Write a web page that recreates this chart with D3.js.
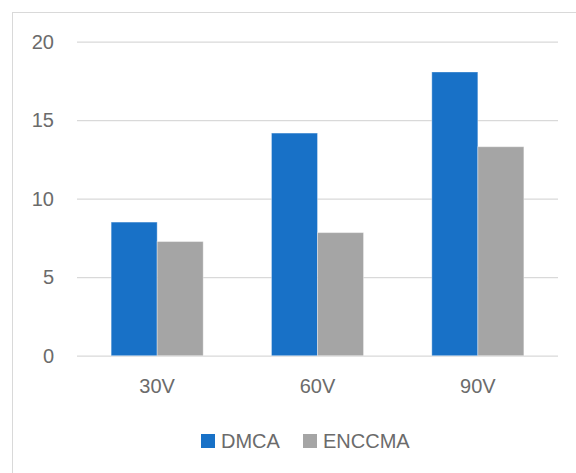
<!DOCTYPE html>
<html>
<head>
<meta charset="utf-8">
<script src="https://cdn.jsdelivr.net/npm/d3@7"></script>
<style>
  html, body { margin: 0; padding: 0; background: #fff; }
  svg { display: block; }
  text { font-family: "Liberation Sans", Arial, sans-serif; fill: #6b6b6b; }
</style>
</head>
<body>
<svg id="chart" width="576" height="473"></svg>
<script>
// Chart data
const categories = ["30V", "60V", "90V"];
const seriesNames = ["DMCA", "ENCCMA"];
const dmca = [8.51, 14.18, 18.07];
const enccma = [7.27, 7.84, 13.31];
const yTicks = [0, 5, 10, 15, 20];
const seriesColors = ["#1871c7", "#a5a5a5"];

const svg = d3.select("#chart");
const W = 576, H = 473;
const textColor = "#6b6b6b";

// Outer frame (only top and left edges fall inside the window)
svg.append("rect")
  .attr("x", 12.5).attr("y", 12.5)
  .attr("width", W).attr("height", H)
  .attr("fill", "none")
  .attr("stroke", "#d9d9d9")
  .attr("stroke-width", 1);

const plot = { left: 77, right: 558, top: 41.7, bottom: 355.7 };

const x = d3.scaleBand()
  .domain(categories)
  .range([plot.left, plot.right])
  .paddingInner(0.426)
  .paddingOuter(0.213);

const xs = d3.scaleBand()
  .domain(seriesNames)
  .range([0, x.bandwidth()]);

const y = d3.scaleLinear()
  .domain([0, 20])
  .range([plot.bottom, plot.top]);

// Horizontal gridlines with value labels
const yAxis = d3.axisLeft(y)
  .tickValues(yTicks)
  .tickSize(-(plot.right - plot.left))
  .tickPadding(23)
  .tickFormat(d3.format("d"));

const gy = svg.append("g")
  .attr("transform", `translate(${plot.left},0)`)
  .call(yAxis);
gy.select(".domain").remove();
gy.selectAll(".tick line")
  .attr("stroke", "#d9d9d9")
  .attr("stroke-width", 1.3);
gy.selectAll(".tick text")
  .attr("font-size", 20)
  .attr("fill", textColor);

// Bars
const rows = categories.map((c, i) => ({ cat: c, values: [dmca[i], enccma[i]] }));

const groups = svg.append("g").selectAll("g")
  .data(rows)
  .join("g")
  .attr("transform", d => `translate(${x(d.cat)},0)`);

groups.selectAll("rect")
  .data(d => d.values.map((v, j) => ({ name: seriesNames[j], value: v, j })))
  .join("rect")
  .attr("x", d => xs(d.name))
  .attr("y", d => y(d.value))
  .attr("width", xs.bandwidth())
  .attr("height", d => y(0) - y(d.value))
  .attr("fill", d => seriesColors[d.j])
  .attr("stroke", "rgba(255,255,255,0.35)")
  .attr("stroke-width", 1);

// Category labels
const xAxis = d3.axisBottom(x).tickSize(0).tickPadding(0);
const gx = svg.append("g")
  .attr("transform", `translate(0,${plot.bottom})`)
  .call(xAxis);
gx.select(".domain").remove();
gx.selectAll(".tick text")
  .attr("font-size", 20)
  .attr("fill", textColor)
  .attr("dy", null)
  .attr("y", 37.5);

// Legend
const legendItems = [
  { name: seriesNames[0], color: seriesColors[0], x: 201 },
  { name: seriesNames[1], color: seriesColors[1], x: 303 }
];
const legend = svg.append("g");
const li = legend.selectAll("g")
  .data(legendItems)
  .join("g")
  .attr("transform", d => `translate(${d.x},434)`);
li.append("rect")
  .attr("width", 14).attr("height", 14)
  .attr("fill", d => d.color);
li.append("text")
  .attr("x", 20).attr("y", 14)
  .attr("font-size", 20)
  .text(d => d.name);
</script>
</body>
</html>
